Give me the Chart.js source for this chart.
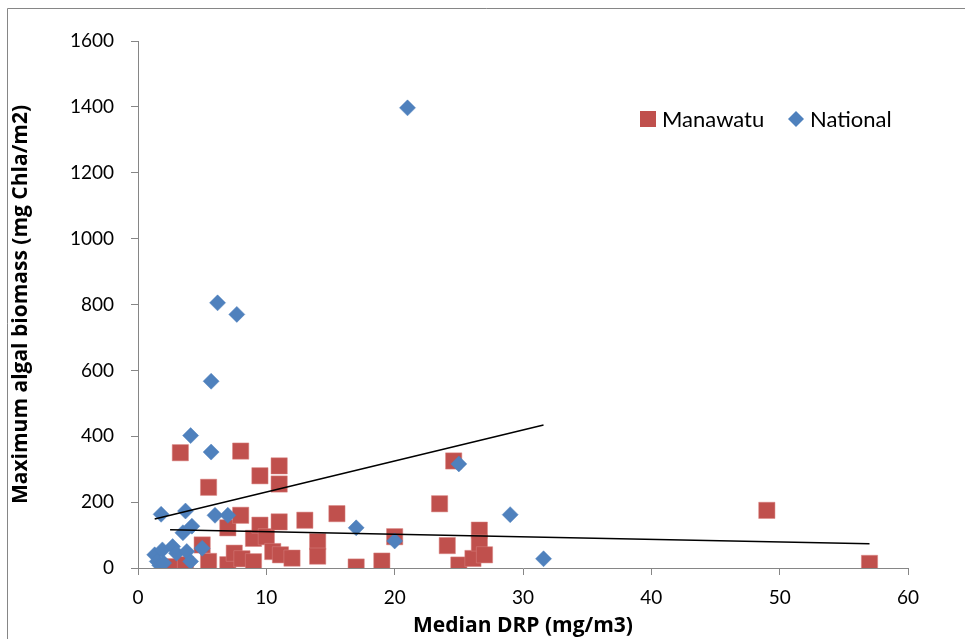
<!DOCTYPE html>
<html>
<head>
<meta charset="utf-8">
<script src="https://cdn.jsdelivr.net/npm/chart.js@4.4.1/dist/chart.umd.min.js"></script>
<style>
  html, body { margin: 0; padding: 0; background: #fff; }
  #wrap { width: 965px; height: 639px; position: relative; }
</style>
</head>
<body>
<div id="wrap"><canvas id="myChart" width="965" height="639"></canvas></div>
<script>
// Manawatu sites (median DRP, max chl a)
const manX = [2.5, 3.3, 3.7, 5.0, 5.5, 5.5, 7.0, 7.0, 7.5, 8.0, 8.0, 8.1, 9.0, 9.0, 9.5, 9.5, 10.0, 10.5, 11.0, 11.0, 11.0, 11.1, 12.0, 13.0, 14.0, 14.0, 15.5, 17.0, 19.0, 20.0, 23.5, 24.1, 24.6, 25.0, 26.1, 26.6, 26.6, 27.0, 49.0, 57.0];
const manY = [4, 350, 10, 70, 245, 20, 122, 10, 45, 355, 160, 28, 90, 19, 280, 130, 95, 50, 310, 255, 140, 40, 30, 145, 80, 36, 165, 3, 21, 95, 195, 68, 325, 9, 29, 115, 76, 40, 175, 14];

// National sites
const natX = [1.3, 1.5, 1.7, 1.8, 1.9, 2.0, 2.7, 3.0, 3.5, 3.7, 3.8, 4.1, 4.1, 4.2, 5.0, 5.7, 5.7, 6.0, 6.2, 7.0, 7.7, 17.0, 20.0, 21.0, 25.0, 29.0, 31.6];
const natY = [40, 20, 8, 163, 55, 15, 65, 45, 107, 173, 50, 20, 402, 127, 60, 567, 352, 160, 805, 160, 770, 122, 82, 1397, 316, 162, 28];

// linear trend lines as drawn (end points)
const natTrendX = [1.3, 31.6];
const natTrendY = [149, 434];
const manTrendX = [2.5, 57.0];
const manTrendY = [116, 74];

const xTicks = [0, 10, 20, 30, 40, 50, 60];
const yTicks = [0, 200, 400, 600, 800, 1000, 1200, 1400, 1600];

const RED = '#C0504D';
const BLUE = '#4F81BD';
const AXIS = '#868686';
const FONT = 'Lato, "Open Sans", sans-serif';
const BOLD = '"Open Sans", "Noto Sans", sans-serif';

function pts(xs, ys) {
  return xs.map((x, i) => ({ x: x, y: ys[i] }));
}

// frame + legend like the spreadsheet chart
const decor = {
  id: 'decor',
  afterDraw(chart) {
    const ctx = chart.ctx;
    ctx.save();
    ctx.strokeStyle = AXIS;
    ctx.lineWidth = 1;
    ctx.beginPath();
    ctx.moveTo(7.5, 639);
    ctx.lineTo(7.5, 8.5);
    ctx.lineTo(965, 8.5);
    ctx.stroke();

    ctx.font = '22px ' + FONT;
    ctx.textBaseline = 'middle';
    ctx.fillStyle = RED;
    ctx.fillRect(640, 111, 16, 16);
    ctx.fillStyle = '#000';
    ctx.fillText('Manawatu', 662, 120);

    ctx.fillStyle = BLUE;
    ctx.beginPath();
    ctx.moveTo(796, 111);
    ctx.lineTo(804, 119);
    ctx.lineTo(796, 127);
    ctx.lineTo(788, 119);
    ctx.closePath();
    ctx.fill();
    ctx.fillStyle = '#000';
    ctx.fillText('National', 810, 120);
    ctx.restore();
  }
};

new Chart('myChart', {
  type: 'scatter',
  data: {
    datasets: [
      {
        type: 'line', label: 'National trend', data: pts(natTrendX, natTrendY),
        borderColor: '#000', borderWidth: 1.5, pointRadius: 0, fill: false
      },
      {
        type: 'line', label: 'Manawatu trend', data: pts(manTrendX, manTrendY),
        borderColor: '#000', borderWidth: 1.5, pointRadius: 0, fill: false
      },
      {
        label: 'National', data: pts(natX, natY),
        pointStyle: 'rectRot', pointRadius: 8, pointHoverRadius: 8,
        backgroundColor: BLUE, borderColor: BLUE, borderWidth: 0.5
      },
      {
        label: 'Manawatu', data: pts(manX, manY),
        pointStyle: 'rect', pointRadius: 11.5, pointHoverRadius: 11.5,
        backgroundColor: RED, borderColor: '#D88583', borderWidth: 0.5
      }
    ]
  },
  options: {
    responsive: false,
    animation: false,
    layout: { padding: { left: 0, top: 41, right: 57, bottom: 0 } },
    plugins: {
      legend: { display: false },
      tooltip: { enabled: false }
    },
    scales: {
      x: {
        type: 'linear', min: 0, max: 60,
        afterFit(scale) { scale.height = 71; },
        afterBuildTicks(scale) { scale.ticks = xTicks.map(v => ({ value: v })); },
        grid: { drawOnChartArea: false, color: AXIS, tickLength: 7 },
        border: { color: AXIS, width: 1 },
        ticks: { color: '#000', font: { family: FONT, size: 19 }, padding: 11, callback: v => String(v) },
        title: {
          display: true, text: 'Median DRP (mg/m3)', color: '#000',
          font: { family: BOLD, size: 21, weight: 'bold' }, padding: { top: 0, bottom: 0 }
        }
      },
      y: {
        type: 'linear', min: 0, max: 1600,
        afterFit(scale) { scale.width = 138; },
        afterBuildTicks(scale) { scale.ticks = yTicks.map(v => ({ value: v })); },
        grid: { drawOnChartArea: false, color: AXIS, tickLength: 7 },
        border: { color: AXIS, width: 1 },
        ticks: { color: '#000', font: { family: FONT, size: 19 }, padding: 17, callback: v => String(v) },
        title: {
          display: true, text: 'Maximum algal biomass (mg Chla/m2)', color: '#000',
          font: { family: BOLD, size: 21, weight: 'bold' }, padding: { top: 8, bottom: 8 }
        }
      }
    }
  },
  plugins: [decor]
});
</script>
</body>
</html>
